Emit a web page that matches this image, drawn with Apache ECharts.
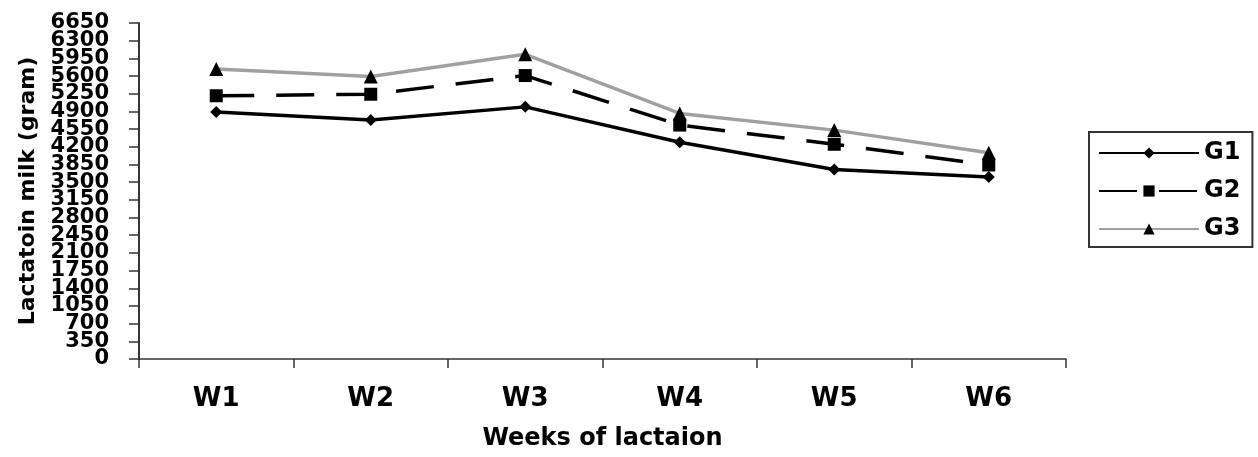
<!DOCTYPE html>
<html>
<head>
<meta charset="utf-8">
<script src="https://cdn.jsdelivr.net/npm/echarts@6/dist/echarts.min.js"></script>
<style>
  html, body { margin: 0; padding: 0; background: #fff; }
  #chart { width: 1258px; height: 457px; }
</style>
</head>
<body>
<div id="chart"></div>
<script>
var weeks = ["W1", "W2", "W3", "W4", "W5", "W6"];
var g1 = [4890, 4730, 4990, 4290, 3750, 3600];
var g2 = [5210, 5240, 5610, 4630, 4250, 3840];
var g3 = [5740, 5590, 6030, 4860, 4530, 4080];
var yTicks = [0, 350, 700, 1050, 1400, 1750, 2100, 2450, 2800, 3150, 3500,
  3850, 4200, 4550, 4900, 5250, 5600, 5950, 6300, 6650];

var font = "DejaVu Sans";
var chart = echarts.init(document.getElementById("chart"));

var gridLeft = 139, gridRight = 192;
var gridWidth = 1258 - gridLeft - gridRight;

var yLabelStyle = {
  margin: 30,
  fontFamily: font,
  fontWeight: "bold",
  fontSize: 21,
  color: "#000",
  formatter: function (v) { return String(v); }
};

var option = {
  backgroundColor: "#fff",
  animation: false,
  grid: { left: gridLeft, right: gridRight, top: 23, bottom: 98 },
  legend: {
    orient: "vertical",
    left: 1089,
    top: 132,
    itemWidth: 100,
    itemHeight: 14,
    itemGap: 14,
    padding: [9, 12, 6, 9],
    borderColor: "#333",
    borderWidth: 2,
    textStyle: { fontFamily: font, fontWeight: "bold", fontSize: 24, color: "#000" },
    data: ["G1", "G2", "G3"]
  },
  xAxis: {
    type: "category",
    data: weeks,
    boundaryGap: true,
    name: "Weeks of lactaion",
    nameLocation: "middle",
    nameGap: 68,
    nameTextStyle: { fontFamily: font, fontWeight: "bold", fontSize: 24, color: "#000" },
    axisLine: { show: true, lineStyle: { color: "#333", width: 1.5 } },
    axisTick: { show: true, inside: false, length: 9, lineStyle: { color: "#333", width: 1.5 } },
    axisLabel: { margin: 27, fontFamily: font, fontWeight: "bold", fontSize: 26, color: "#000" },
    splitLine: { show: false }
  },
  yAxis: [
    {
      type: "value",
      position: "left",
      min: 0,
      max: 6650,
      interval: 350,
      name: "Lactatoin milk (gram)",
      nameLocation: "middle",
      nameRotate: 90,
      nameGap: 100,
      nameTextStyle: { fontFamily: font, fontWeight: "bold", fontSize: 22, color: "#000" },
      axisLine: { show: true, lineStyle: { color: "#333", width: 2 } },
      axisTick: { show: false },
      axisLabel: yLabelStyle,
      splitLine: { show: false }
    },
    {
      // same scale, moved onto the left edge: carries the ticks and the end labels
      type: "value",
      position: "right",
      offset: -gridWidth,
      min: 0,
      max: 6650,
      interval: 350,
      axisLine: { show: false },
      axisTick: {
        show: true,
        inside: true,
        length: 10,
        customValues: yTicks,
        lineStyle: { color: "#333", width: 1.5 }
      },
      axisLabel: Object.assign({}, yLabelStyle, {
        inside: true,
        showMinLabel: true,
        showMaxLabel: true,
        customValues: [yTicks[0], yTicks[yTicks.length - 1]]
      }),
      splitLine: { show: false }
    }
  ],
  series: [
    {
      name: "G1",
      type: "line",
      data: g1,
      symbol: "diamond",
      symbolSize: 12,
      itemStyle: { color: "#000" },
      lineStyle: { color: "#000", width: 3.5 }
    },
    {
      name: "G2",
      type: "line",
      data: g2,
      symbol: "rect",
      symbolSize: 13,
      itemStyle: { color: "#000" },
      lineStyle: { color: "#000", width: 3.5, type: [38, 22] }
    },
    {
      name: "G3",
      type: "line",
      data: g3,
      symbol: "triangle",
      symbolSize: 14,
      itemStyle: { color: "#000" },
      lineStyle: { color: "#a0a0a0", width: 3.5 }
    }
  ]
};

chart.setOption(option);
</script>
</body>
</html>
